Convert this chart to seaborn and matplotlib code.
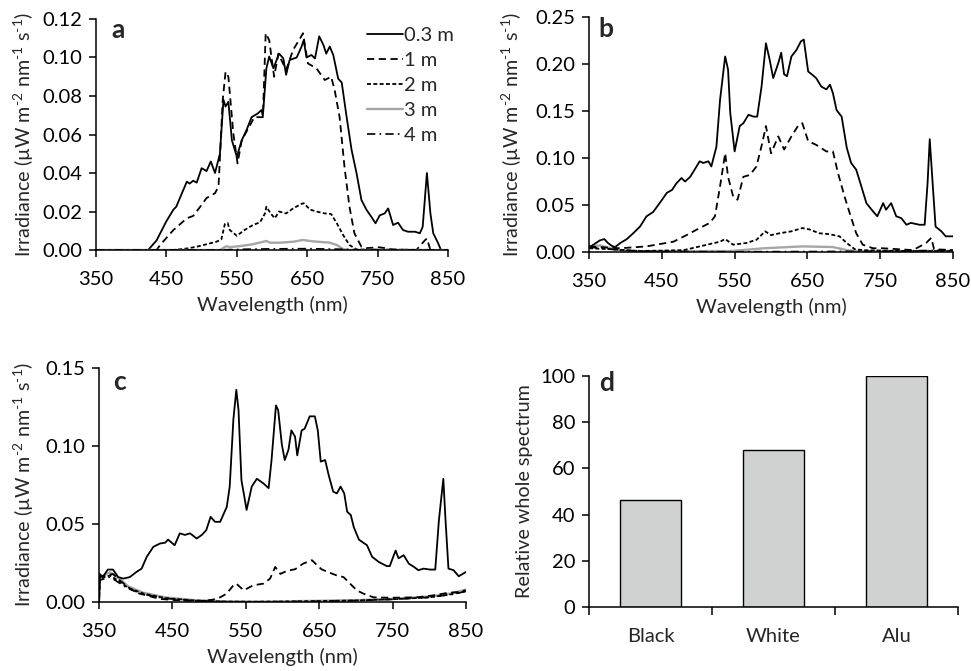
import matplotlib
matplotlib.use("Agg")
import matplotlib.pyplot as plt
import matplotlib.ticker as mticker
import numpy as np
import pandas as pd
import seaborn as sns

# ---------------- data ----------------
depths = ["0.3 m", "1 m", "2 m", "3 m", "4 m"]

# panel a
a_wl_03 = [350, 424, 436, 450, 460, 464, 472, 479, 483, 488, 493, 500, 507, 513, 519, 526, 531, 534, 538, 543,
           550, 557, 564, 571, 580, 585, 587, 592, 596, 602, 610, 616, 620, 625, 635, 642, 645, 649, 656, 661,
           667, 673, 677, 682, 687, 694, 699, 706, 713, 720, 727, 734, 741, 747, 753, 760, 765, 772, 779, 786,
           793, 803, 810, 814, 820, 825, 829, 836, 840, 850]
a_ir_03 = [0, 0, .005, .015, .021, .0225, .0295, .0355, .0345, .036, .035, .0425, .041, .046, .040, .050, .078, .0745, .077, .057,
           .0485, .057, .0625, .069, .071, .0727, .0697, .0944, .1005, .0944, .102, .0996, .091, .0987, .100, .1057, .109, .100, .1013, .0995,
           .111, .1065, .102, .1057, .1013, .089, .087, .069, .052, .040, .026, .021, .0173, .0139, .018, .019, .0216, .013, .0142, .0104,
           .0095, .0095, .0087, .012, .040, .019, .0087, .0035, 0, 0]
a_wl_1 = [350, 436, 441, 460, 479, 488, 498, 507, 519, 524, 530, 534, 538, 545, 551, 557, 566, 575, 587, 591,
          596, 603, 609, 620, 630, 640, 644, 651, 663, 675, 684, 689, 696, 703, 710, 717, 727, 734, 753, 772,
          805, 817, 820, 825, 830, 850]
a_ir_1 = [0, 0, .0026, .0104, .0165, .0177, .0225, .027, .0295, .033, .078, .0926, .090, .0606, .045, .057, .063, .069, .069, .1126,
          .109, .090, .102, .0935, .104, .110, .1126, .0969, .0944, .0883, .090, .083, .069, .043, .0225, .0087, .0017, .001, .0014, .0003,
          0, .005, .006, 0, 0, 0]
a_wl_2 = [350, 460, 479, 493, 507, 521, 528, 533, 537, 540, 550, 561, 573, 583, 590, 592, 598, 604, 610, 620,
          630, 642, 645, 654, 663, 675, 684, 692, 701, 710, 720, 850]
a_ir_2 = [0, 0, .0008, .0017, .003, .0043, .0055, .0135, .014, .0104, .0074, .0104, .013, .0144, .019, .0225, .019, .0165, .020, .019,
          .0216, .024, .0243, .021, .020, .019, .0187, .0139, .0078, .0026, .0003, 0]
a_wl_3 = [350, 526, 535, 540, 554, 573, 592, 597, 611, 630, 644, 658, 682, 692, 701, 710, 850]
a_ir_3 = [0, 0, .002, .0015, .002, .003, .0047, .0038, .0038, .0043, .0052, .0045, .0038, .0026, .0005, 0, 0]
a_wl_4 = [350, 520, 560, 600, 650, 700, 730, 850]
a_ir_4 = [0, 0, .0004, .0006, .0007, .0004, 0, 0]

# panel b
b_wl_03 = [350, 356, 365, 371, 376, 381, 386, 393, 402, 411, 420, 429, 438, 447, 457, 464, 470, 477, 482, 489,
           495, 502, 507, 514, 518, 525, 530, 537, 541, 544, 550, 557, 562, 569, 576, 581, 587, 593, 598, 603,
           610, 614, 618, 622, 628, 635, 641, 645, 651, 656, 662, 669, 676, 681, 685, 690, 697, 704, 710, 717,
           724, 731, 740, 746, 754, 758, 765, 772, 779, 786, 792, 804, 811, 815, 818, 822, 826, 834, 840, 850]
b_ir_03 = [.005, .0078, .0124, .0138, .0096, .0067, .0053, .0096, .0138, .0202, .027, .038, .0425, .052, .063, .066, .073, .0787, .075, .080,
           .0876, .0965, .0947, .0965, .091, .112, .162, .208, .194, .148, .107, .134, .137, .146, .144, .144, .176, .222, .205, .185,
           .201, .212, .189, .187, .208, .215, .224, .226, .192, .189, .185, .176, .173, .178, .169, .151, .144, .111, .0947, .0876,
           .070, .052, .0433, .038, .052, .045, .052, .038, .036, .029, .031, .029, .029, .073, .120, .073, .027, .022, .0167, .0167]
b_wl_1 = [350, 370, 393, 429, 466, 484, 502, 516, 523, 530, 537, 541, 548, 554, 562, 571, 580, 588, 593, 600,
          610, 618, 628, 637, 643, 651, 662, 676, 685, 692, 701, 708, 717, 726, 740, 754, 795, 813, 820, 824, 850]
b_ir_1 = [.006, .005, .004, .006, .011, .018, .0255, .031, .038, .070, .105, .080, .059, .0556, .080, .082, .091, .116, .134, .105,
          .123, .109, .123, .134, .137, .118, .114, .107, .107, .084, .059, .0415, .020, .0078, .004, .004, .002, .0096, .015, .003, .002]
b_wl_2 = [350, 380, 420, 480, 530, 537, 548, 566, 580, 592, 600, 612, 628, 643, 653, 666, 680, 694, 704, 715, 726, 780, 850]
b_ir_2 = [.004, .003, .001, .002, .011, .0138, .0078, .0096, .013, .022, .018, .020, .022, .0255, .024, .020, .019, .0167, .0096, .003,
          .002, .001, .001]
b_wl_3 = [350, 365, 380, 400, 544, 590, 643, 685, 704, 720, 850]
b_ir_3 = [.006, .007, .004, .001, .001, .004, .006, .0053, .002, .001, .001]
b_wl_4 = [350, 370, 390, 450, 550, 650, 750, 850]
b_ir_4 = [.005, .004, .002, .0005, .0003, .0005, .0008, .002]

# panel c
c_wl_03 = [350, 351, 355, 362, 369, 376, 383, 392, 401, 408, 415, 424, 433, 440, 444, 453, 460, 467, 474, 483,
           490, 496, 502, 508, 515, 524, 528, 533, 537, 540, 544, 547, 551, 558, 565, 574, 581, 585, 591, 594,
           599, 603, 608, 612, 617, 620, 626, 630, 637, 644, 648, 652, 658, 663, 669, 674, 679, 684, 688, 693,
           697, 704, 710, 715, 722, 731, 742, 746, 754, 758, 765, 772, 779, 785, 792, 801, 808, 813, 819, 822,
           826, 833, 840, 850]
c_ir_03 = [0, .018, .016, .0208, .0208, .016, .015, .016, .0193, .0214, .029, .0354, .0375, .038, .040, .0364, .044, .043, .044, .0407,
           .043, .046, .0546, .0514, .0514, .061, .074, .117, .136, .123, .078, .070, .059, .074, .079, .076, .073, .091, .126, .123,
           .101, .091, .0975, .110, .106, .094, .110, .111, .119, .119, .110, .090, .091, .081, .0707, .0696, .074, .0696, .0579, .0557,
           .048, .040, .038, .0364, .029, .0257, .023, .023, .033, .028, .030, .0246, .0225, .0204, .0214, .0208, .0208, .0525, .079, .0525,
           .0214, .0204, .0165, .0193]
c_wl_1 = [350, 351, 369, 378, 392, 405, 433, 460, 487, 505, 515, 524, 533, 537, 547, 560, 574, 583, 590, 597,
          606, 617, 628, 640, 647, 653, 663, 674, 683, 692, 701, 710, 724, 742, 760, 783, 806, 824, 838, 850]
c_ir_1 = [0, .016, .018, .014, .0086, .0054, .002, .001, .0005, .0015, .003, .0054, .0107, .0118, .0075, .0107, .0118, .015, .0225, .018,
          .020, .021, .0246, .0268, .0236, .021, .019, .017, .016, .0118, .0075, .0054, .003, .0028, .0028, .003, .0043, .0058, .0064, .0075]
c_wl_low = [350, 351, 365, 375, 390, 410, 440, 480, 520, 560, 600, 650, 700, 750, 800, 830, 850]
c_ir_2 = [0, .015, .017, .014, .009, .0055, .0025, .001, .0003, .0002, .0003, .0006, .001, .0018, .003, .005, .007]
c_ir_3 = [0, .016, .019, .016, .010, .006, .003, .0012, .0004, .0002, .0004, .0008, .0012, .002, .0035, .0055, .008]
c_ir_4 = [0, .014, .016, .013, .0085, .005, .0023, .0008, .0002, .0001, .0002, .0005, .0009, .0017, .003, .0048, .0068]

# panel d
d_cats = ["Black", "White", "Alu"]
d_vals = [46.5, 68, 100]

x_ticks = [350, 450, 550, 650, 750, 850]

# ---------------- style ----------------
sns.set_theme(style="ticks")
plt.rcParams["font.family"] = ["Lato", "DejaVu Sans"]
plt.rcParams["mathtext.fontset"] = "custom"
plt.rcParams["mathtext.rm"] = "Lato"
plt.rcParams["mathtext.it"] = "Lato:italic"

FS = 14.5
YFS = 14.2
colors = {"0.3 m": "black", "1 m": "black", "2 m": "black", "3 m": "#a6a6a6", "4 m": "black"}
styles = {"0.3 m": "-", "1 m": (0, (4, 2.5)), "2 m": (0, (2.2, 1.3)), "3 m": "-", "4 m": (0, (5, 2.5, 1, 2.5))}
widths = {"0.3 m": 1.3, "1 m": 1.3, "2 m": 1.3, "3 m": 1.7, "4 m": 1.2}

fig = plt.figure(figsize=(9.71, 6.71), dpi=100)
ax_a = fig.add_axes([0.0989, 0.6274, 0.3625, 0.3443])
ax_b = fig.add_axes([0.6066, 0.6244, 0.3749, 0.3503])
ax_c = fig.add_axes([0.1020, 0.1028, 0.3780, 0.3488])
ax_d = fig.add_axes([0.6066, 0.0954, 0.3800, 0.3442])

ylab = "Irradiance (µW m$^{\\mathrm{\u20102}}$ nm$^{\\mathrm{\u20101}}$ s$^{\\mathrm{\u20101}}$)"


def style_axes(ax):
    for s in ["top", "right"]:
        ax.spines[s].set_visible(False)
    for s in ["left", "bottom"]:
        ax.spines[s].set_linewidth(1.1)
        ax.spines[s].set_color("black")
    ax.tick_params(axis="both", direction="out", length=5, width=1.1, colors="black",
                   labelsize=FS)
    ax.tick_params(axis="x", pad=10)
    ax.tick_params(axis="y", pad=5)


def spectrum(ax, series, ymax, ystep, letter, lpos, ylx, legend=False):
    for name, wl, ir in series:
        df = pd.DataFrame({"wl": wl, "ir": ir})
        sns.lineplot(data=df, x="wl", y="ir", ax=ax, color=colors[name], linestyle=styles[name],
                     linewidth=widths[name], estimator=None, sort=False, label=name if legend else None)
    ax.set_xlim(350, 850)
    ax.set_ylim(0, ymax)
    ax.set_xticks(x_ticks)
    ax.set_yticks(np.arange(0, ymax + ystep / 2, ystep))
    ax.yaxis.set_major_formatter(mticker.FormatStrFormatter("%.2f"))
    ax.set_xlabel("Wavelength (nm)", fontsize=FS, labelpad=6)
    ax.set_ylabel(ylab, fontsize=YFS)
    ax.yaxis.set_label_coords(ylx, 0.5)
    style_axes(ax)
    ax.text(lpos[0], lpos[1], letter, transform=ax.transAxes, fontsize=19, fontweight="bold",
            ha="left", va="baseline")
    if legend:
        ax.legend(loc="upper right", bbox_to_anchor=(1.045, 1.01), frameon=False, fontsize=FS,
                  handlelength=1.8, handletextpad=0.05, labelspacing=0.4, borderpad=0)
    else:
        lg = ax.get_legend()
        if lg is not None:
            lg.remove()


spectrum(ax_a, [("0.3 m", a_wl_03, a_ir_03), ("1 m", a_wl_1, a_ir_1), ("2 m", a_wl_2, a_ir_2),
                ("3 m", a_wl_3, a_ir_3), ("4 m", a_wl_4, a_ir_4)], 0.12, 0.02, "a",
         (0.043, 0.918), -0.17, legend=True)
spectrum(ax_b, [("3 m", b_wl_3, b_ir_3), ("4 m", b_wl_4, b_ir_4), ("2 m", b_wl_2, b_ir_2),
                ("1 m", b_wl_1, b_ir_1), ("0.3 m", b_wl_03, b_ir_03)], 0.25, 0.05, "b",
         (0.025, 0.915), -0.179)
spectrum(ax_c, [("3 m", c_wl_low, c_ir_3), ("2 m", c_wl_low, c_ir_2), ("4 m", c_wl_low, c_ir_4),
                ("1 m", c_wl_1, c_ir_1), ("0.3 m", c_wl_03, c_ir_03)], 0.15, 0.05, "c",
         (0.038, 0.906), -0.172)

# panel d
d_df = pd.DataFrame({"cat": d_cats, "val": d_vals})
sns.barplot(data=d_df, x="cat", y="val", ax=ax_d, color="#d0d2d1", saturation=1,
            edgecolor="black", linewidth=1.0, width=0.5)
ax_d.set_xlim(-0.5, 2.5)
ax_d.set_ylim(0, 100)
ax_d.set_yticks([0, 20, 40, 60, 80, 100])
ax_d.set_xticks([-0.5, 0.5, 1.5, 2.5])
ax_d.set_xticklabels([])
ax_d.set_xticks([0, 1, 2], minor=True)
ax_d.set_xticklabels(d_cats, minor=True)
style_axes(ax_d)
ax_d.tick_params(axis="x", which="major", length=6)
ax_d.tick_params(axis="x", which="minor", length=0, pad=15, labelsize=FS)
ax_d.set_xlabel("")
ax_d.set_ylabel("Relative whole spectrum", fontsize=YFS)
ax_d.yaxis.set_label_coords(-0.152, 0.5)
ax_d.text(0.027, 0.935, "d", transform=ax_d.transAxes, fontsize=19, fontweight="bold",
          ha="left", va="baseline")

fig.savefig("out.png", dpi=100)
